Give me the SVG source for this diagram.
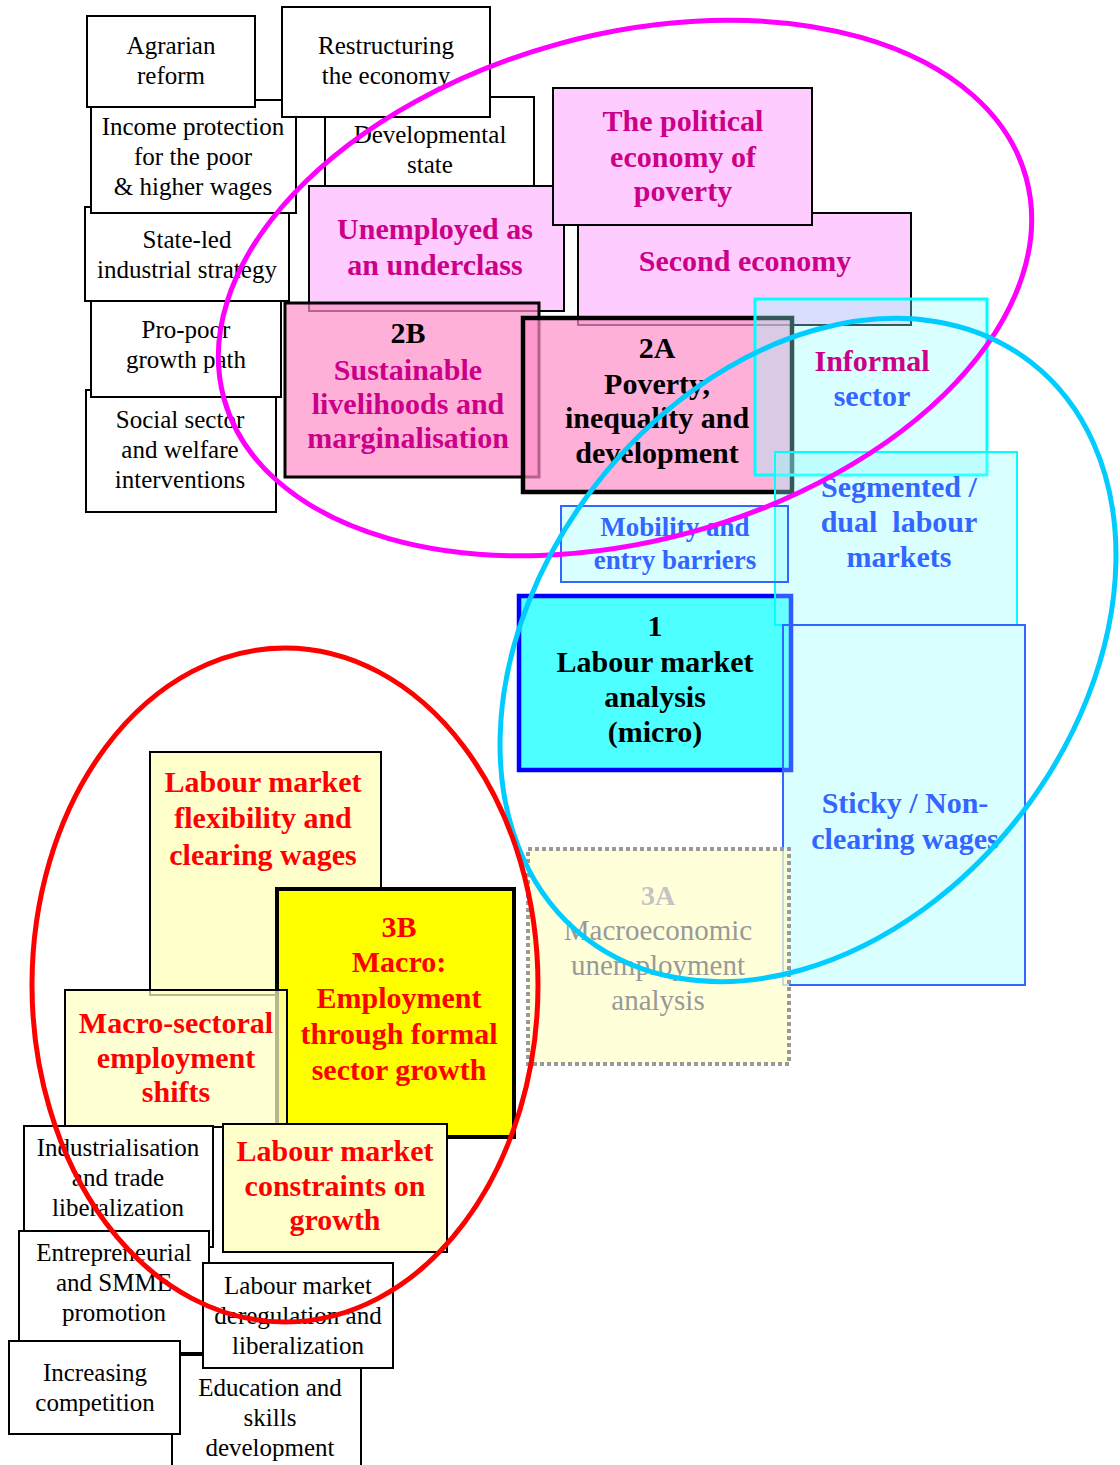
<svg xmlns="http://www.w3.org/2000/svg" width="1120" height="1465" viewBox="0 0 1120 1465">
<style>
text{font-family:"Liberation Serif","Times New Roman",Times,"Noto Serif","DejaVu Serif",FreeSerif,Georgia,serif;text-anchor:middle}
.w{fill:#fff;stroke:#000;stroke-width:2}
.tw{font-size:25px;fill:#000}
.tb{font-size:30px;font-weight:bold}
.mg{fill:#CC0088}
.bk{fill:#000}
.bl{fill:#3366FF}
.rd{fill:#FF0000}
.pinkL{fill:#FFCCFF;stroke:#000;stroke-width:2}
.pinkD{fill:#FF8EC7;fill-opacity:0.7;stroke:#000}
.cy{fill:#92FFFF;fill-opacity:0.35}
.yl{fill:#FFFFCC;stroke:#000;stroke-width:2}
.ell{fill:none;stroke-width:5}
</style>
<rect width="1120" height="1465" fill="#fff"/>

<!-- left column white boxes -->
<g id="social"><rect class="w" x="86" y="390" width="190" height="122"/><text class="tw" x="180" y="428">Social sector</text><text class="tw" x="180" y="458">and welfare</text><text class="tw" x="180" y="488">interventions</text></g>
<g id="propoor"><rect class="w" x="91" y="301" width="190" height="96"/><text class="tw" x="186" y="338">Pro-poor</text><text class="tw" x="186" y="368">growth path</text></g>
<g id="stateled"><rect class="w" x="85" y="207" width="204" height="94"/><text class="tw" x="187" y="248">State-led</text><text class="tw" x="187" y="278">industrial strategy</text></g>
<g id="income"><rect class="w" x="91" y="100" width="205" height="113"/><text class="tw" x="193" y="135">Income protection</text><text class="tw" x="193" y="165">for the poor</text><text class="tw" x="193" y="195">&amp; higher wages</text></g>
<g id="agrarian"><rect class="w" x="87" y="16" width="168" height="91"/><text class="tw" x="171" y="54">Agrarian</text><text class="tw" x="171" y="84">reform</text></g>
<g id="developmental"><rect class="w" x="325" y="97" width="209" height="103"/><text class="tw" x="430" y="143">Developmental</text><text class="tw" x="430" y="173">state</text></g>
<g id="restructuring"><rect class="w" x="282" y="7" width="208" height="110"/><text class="tw" x="386" y="54">Restructuring</text><text class="tw" x="386" y="84">the economy</text></g>

<!-- pink cluster -->
<g id="unemployed"><rect class="pinkL" x="309" y="186" width="255" height="125"/><text class="tb mg" x="435" y="239">Unemployed as</text><text class="tb mg" x="435" y="275">an underclass</text></g>
<g id="second-economy"><rect class="pinkL" x="578" y="213" width="333" height="112"/><text class="tb mg" x="745" y="271">Second economy</text></g>
<g id="political-economy"><rect class="pinkL" x="553" y="88" width="259" height="137"/><text class="tb mg" x="683" y="131">The political</text><text class="tb mg" x="683" y="167">economy of</text><text class="tb mg" x="683" y="201">poverty</text></g>
<g id="n2B"><rect class="pinkD" stroke-width="3" x="285" y="303" width="254" height="174"/><text class="tb bk" x="408" y="343">2B</text><text class="tb mg" x="408" y="380">Sustainable</text><text class="tb mg" x="408" y="414">livelihoods and</text><text class="tb mg" x="408" y="448">marginalisation</text></g>
<g id="n2A"><rect class="pinkD" stroke-width="4.5" x="523" y="318" width="269" height="174"/><text class="tb bk" x="657" y="358">2A</text><text class="tb bk" x="657" y="394">Poverty,</text><text class="tb bk" x="657" y="428">inequality and</text><text class="tb bk" x="657" y="463">development</text></g>

<!-- cyan cluster -->
<g id="n1"><rect x="519" y="596" width="272" height="174" fill="#4DFFFF" stroke="#0000FF" stroke-width="4.5"/><text class="tb bk" x="655" y="636">1</text><text class="tb bk" x="655" y="672">Labour market</text><text class="tb bk" x="655" y="707">analysis</text><text class="tb bk" x="655" y="742">(micro)</text></g>
<g id="informal"><rect class="cy" x="755" y="299" width="232" height="176" stroke="#00FFFF" stroke-width="3"/><text class="tb mg" x="872" y="371">Informal</text><text class="tb bl" x="872" y="406">sector</text></g>
<g id="segmented"><rect class="cy" x="775" y="452" width="242" height="173" stroke="#00FFFF" stroke-width="2"/><text class="tb bl" x="899" y="497">Segmented /</text><text class="tb bl" x="899" y="532" xml:space="preserve">dual  labour</text><text class="tb bl" x="899" y="567">markets</text></g>
<g id="mobility"><rect class="cy" x="561" y="506" width="227" height="76" stroke="#3366FF" stroke-width="2"/><text class="bl" font-size="27" font-weight="bold" x="675" y="536">Mobility and</text><text class="bl" font-size="27" font-weight="bold" x="675" y="569">entry barriers</text></g>
<g id="sticky"><rect class="cy" x="783" y="625" width="242" height="360" stroke="#3366FF" stroke-width="2"/><text class="tb bl" x="905" y="813">Sticky / Non-</text><text class="tb bl" x="905" y="849">clearing wages</text></g>
<g id="n3A"><rect x="528" y="849" width="261" height="215" fill="#FFFFCC" fill-opacity="0.75" stroke="#999" stroke-width="4" stroke-dasharray="4 3"/><text font-size="28" font-weight="bold" fill="#C4C4C4" x="658" y="905">3A</text><text font-size="29" fill="#999" x="658" y="940">Macroeconomic</text><text font-size="29" fill="#999" x="658" y="975">unemployment</text><text font-size="29" fill="#999" x="658" y="1010">analysis</text></g>

<!-- yellow cluster -->
<g id="flexibility"><rect class="yl" x="150" y="752" width="231" height="243"/><text class="tb rd" x="263" y="792">Labour market</text><text class="tb rd" x="263" y="828">flexibility and</text><text class="tb rd" x="263" y="865">clearing wages</text></g>
<g id="n3B"><rect x="277" y="889" width="237" height="248" fill="#FFFF00" stroke="#000" stroke-width="4"/><text class="tb rd" x="399" y="937">3B</text><text class="tb rd" x="399" y="972">Macro:</text><text class="tb rd" x="399" y="1008">Employment</text><text class="tb rd" x="399" y="1044">through formal</text><text class="tb rd" x="399" y="1080">sector growth</text></g>
<g id="macro-sectoral"><rect x="65" y="990" width="222" height="137" fill="#FFFFC3" fill-opacity="0.72" stroke="#000" stroke-width="2"/><text class="tb rd" x="176" y="1033">Macro-sectoral</text><text class="tb rd" x="176" y="1068">employment</text><text class="tb rd" x="176" y="1102">shifts</text></g>
<g id="constraints"><rect class="yl" x="223" y="1124" width="224" height="128"/><text class="tb rd" x="335" y="1161">Labour market</text><text class="tb rd" x="335" y="1196">constraints on</text><text class="tb rd" x="335" y="1230">growth</text></g>
<g id="industrialisation"><rect class="w" x="24" y="1126" width="189" height="121"/><text class="tw" x="118" y="1156">Industrialisation</text><text class="tw" x="118" y="1186">and trade</text><text class="tw" x="118" y="1216">liberalization</text></g>
<g id="entrepreneurial"><rect class="w" x="19" y="1231" width="190" height="122"/><text class="tw" x="114" y="1261">Entrepreneurial</text><text class="tw" x="114" y="1291">and SMME</text><text class="tw" x="114" y="1321">promotion</text></g>
<g id="education"><rect class="w" x="172" y="1355" width="189" height="125"/><text class="tw" x="270" y="1396">Education and</text><text class="tw" x="270" y="1426">skills</text><text class="tw" x="270" y="1456">development</text></g>
<g id="deregulation"><rect class="w" x="203" y="1263" width="190" height="105"/><text class="tw" x="298" y="1294">Labour market</text><text class="tw" x="298" y="1324">deregulation and</text><text class="tw" x="298" y="1354">liberalization</text></g>
<g id="increasing"><rect class="w" x="9" y="1341" width="171" height="93"/><text class="tw" x="95" y="1381">Increasing</text><text class="tw" x="95" y="1411">competition</text></g>

<!-- grouping ellipses -->
<g id="connectors">
<ellipse class="ell" stroke="#FF00FF" cx="625" cy="288" rx="416" ry="253" transform="rotate(-15.4 625 288)"/>
<ellipse class="ell" stroke="#00CCFF" cx="808" cy="650" rx="364" ry="269" transform="rotate(-52.3 808 650)"/>
<ellipse class="ell" stroke="#FF0000" cx="285" cy="985" rx="253" ry="337"/>
</g>
</svg>
